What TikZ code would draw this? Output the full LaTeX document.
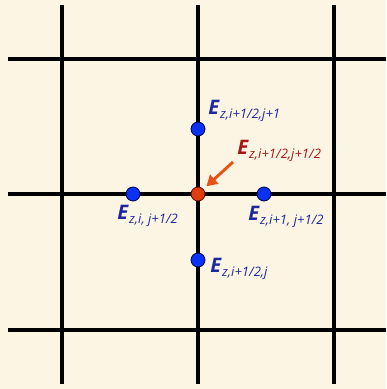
\documentclass[tikz,border=0pt]{standalone}
\usepackage{fontspec}
\setmainfont{Open Sans}
\usetikzlibrary{arrows.meta}
\definecolor{bgc}{RGB}{253,245,228}
\definecolor{dotblue}{RGB}{10,50,245}
\definecolor{dotred}{RGB}{222,62,12}
\definecolor{arrred}{RGB}{232,82,22}
\definecolor{txtblue}{RGB}{28,40,160}
\definecolor{txtred}{RGB}{165,22,20}
\newcommand{\fldE}[1]{{\fontsize{15}{15}\selectfont\bfseries\itshape E}\raisebox{-3pt}{\fontsize{9.8}{10}\selectfont\itshape\kern0.8pt #1}}
\tikzset{
  gridline/.style={line width=2.3pt, black},
  bdot/.style={circle, fill=dotblue, draw=black!70!blue, line width=0.6pt, minimum size=10.5pt, inner sep=0pt},
  rdot/.style={circle, fill=dotred, draw=black!60!red, line width=0.6pt, minimum size=10.5pt, inner sep=0pt},
  blab/.style={anchor=base west, inner sep=0pt, text=txtblue},
  rlab/.style={anchor=base west, inner sep=0pt, text=txtred},
  pointer/.style={arrred, line width=2.2pt, -{Triangle[length=8pt,width=9pt]}, shorten >=3pt}
}
\begin{document}
\begin{tikzpicture}[x=0.75pt,y=-0.75pt]
\fill[bgc] (0,0) rectangle (386,389);
\useasboundingbox (0,0) rectangle (386,389);
% grid
\foreach \gx in {62,198,334} \draw[gridline] (\gx,5) -- (\gx,384);
\foreach \gy in {59,194,330} \draw[gridline] (8,\gy) -- (386,\gy);
% dots
\node[bdot] (top) at (198,129) {};
\node[bdot] (left) at (133,194) {};
\node[bdot] (right) at (264,194) {};
\node[bdot] (bot) at (198,260) {};
\node[rdot] (ctr) at (198,194) {};
% labels
\node[blab] (ltop) at (208,114) {\fldE{z,i+1/2,j+1}};
\node[rlab] (lctr) at (237,154) {\fldE{z,i+1/2,j+1/2}};
\node[blab] (lleft) at (117,219) {\fldE{z,i, j+1/2}};
\node[blab] (lright) at (248,220) {\fldE{z,i+1, j+1/2}};
\node[blab] (lbot) at (210,272) {\fldE{z,i+1/2,j}};
% arrow
\coordinate (atail) at (233,162);
\draw[pointer] (atail) -- (ctr);
\end{tikzpicture}
\end{document}
